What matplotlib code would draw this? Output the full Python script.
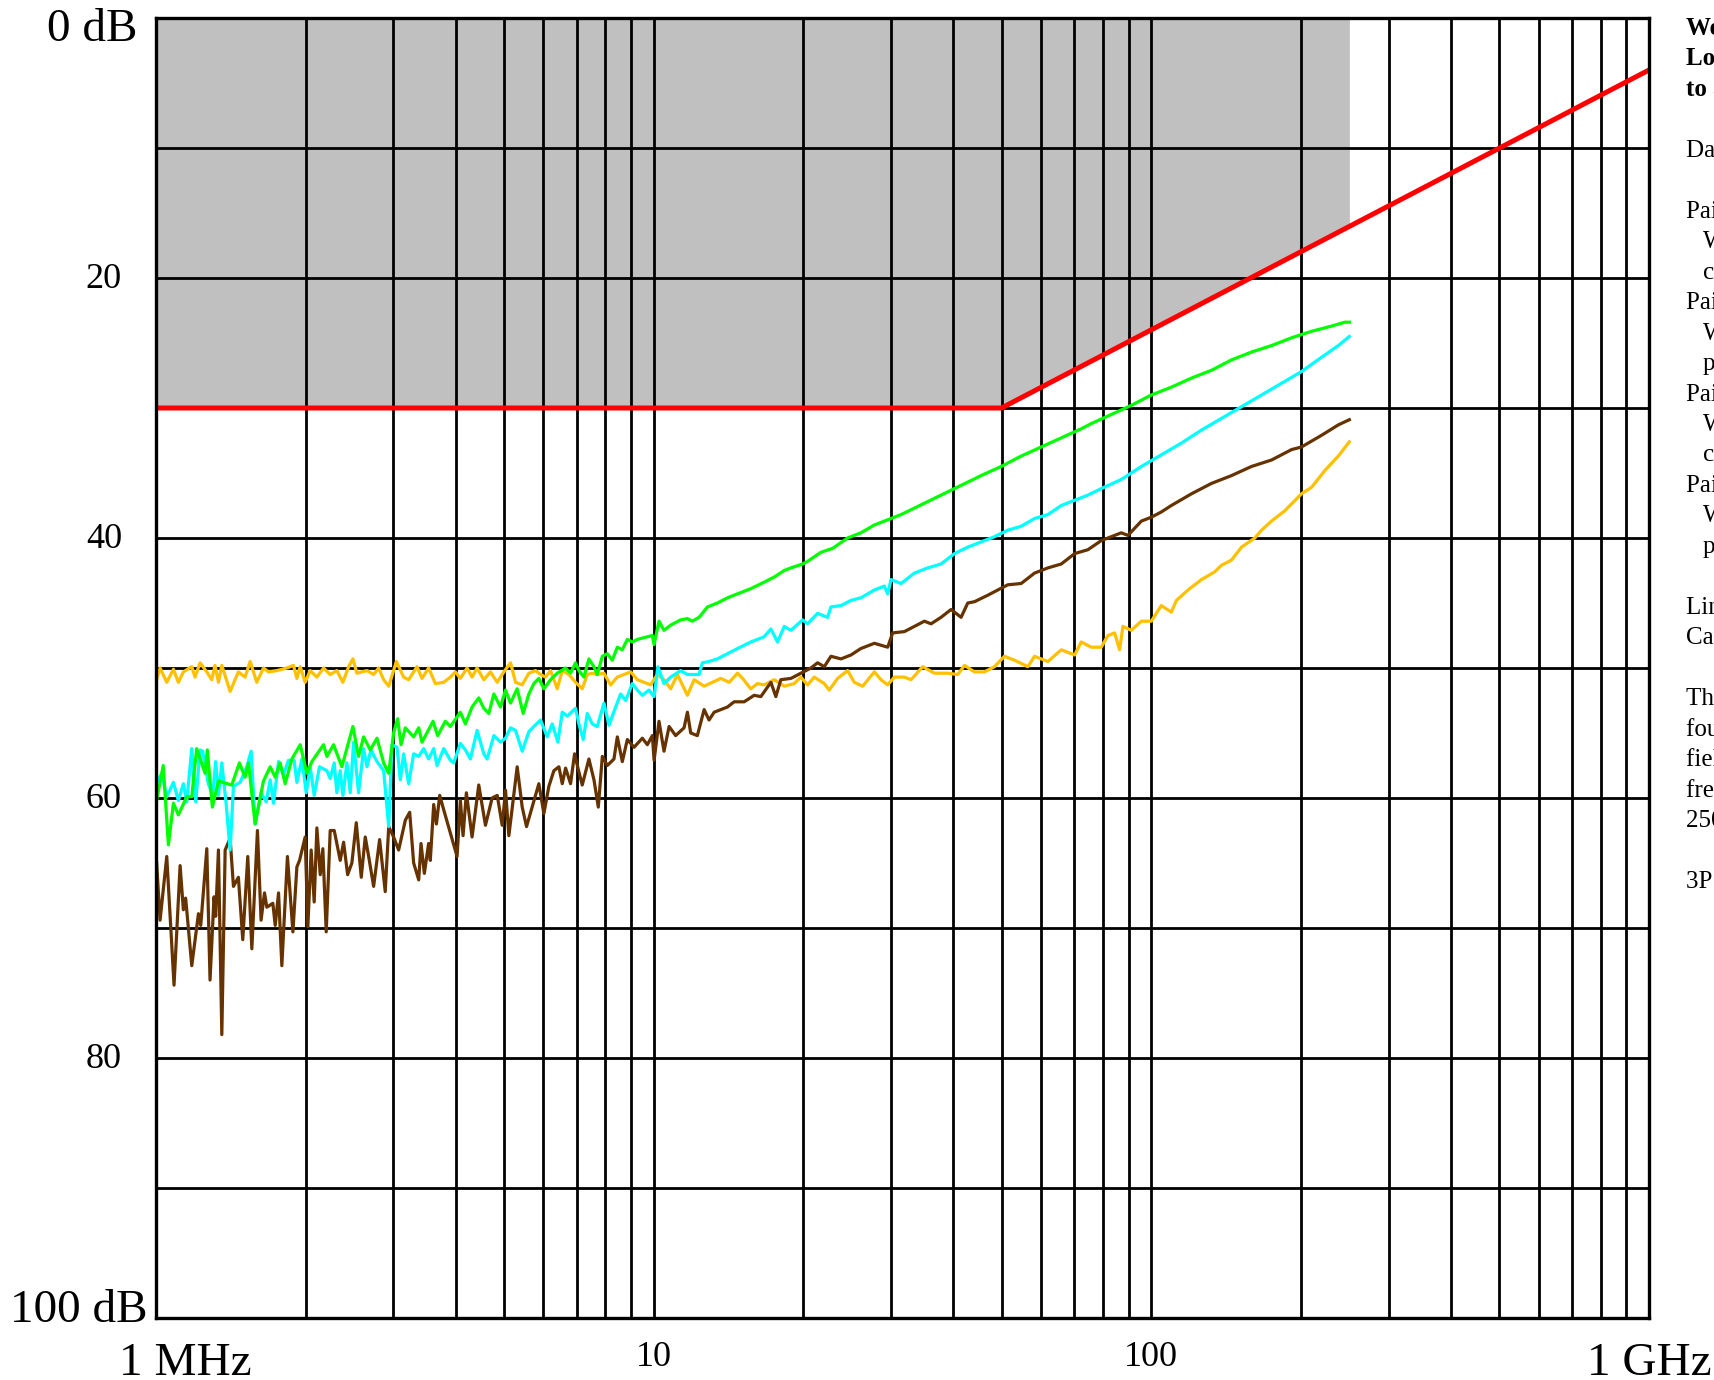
import matplotlib
matplotlib.use('Agg')
import matplotlib.pyplot as plt
from matplotlib.ticker import LogLocator, MultipleLocator, NullFormatter
from matplotlib.transforms import blended_transform_factory

SERIF = ['Liberation Serif', 'DejaVu Serif']

# ---------------- data (MHz, dB) ----------------
brown_f = [1.003, 1.019, 1.051, 1.087, 1.118, 1.135, 1.147, 1.180, 1.217, 1.230, 1.265, 1.284, 1.308, 1.318,
           1.335, 1.356, 1.377, 1.409, 1.431, 1.464, 1.494, 1.529, 1.558, 1.599, 1.626, 1.652, 1.670, 1.717,
           1.736, 1.763, 1.790, 1.837, 1.884, 1.919, 1.943, 1.994, 2.019, 2.050, 2.079, 2.105, 2.138, 2.164,
           2.198, 2.239, 2.281, 2.345, 2.382, 2.427, 2.475, 2.526, 2.585, 2.633, 2.675, 2.737, 2.814, 2.888,
           2.935, 3.002, 3.073, 3.170, 3.234, 3.294, 3.372, 3.408, 3.461, 3.530, 3.558, 3.614, 3.660, 3.716,
           3.785,
           3.905, 4.027, 4.089, 4.140, 4.204, 4.316, 4.452, 4.592, 4.736, 4.849, 4.962, 5.039, 5.117, 5.318,
           5.443, 5.553, 5.700, 5.879, 6.017, 6.158, 6.302, 6.450, 6.551, 6.653, 6.808, 6.935, 7.076, 7.186,
           7.411, 7.586, 7.740, 7.886, 8.069, 8.322, 8.452, 8.650, 8.853, 9.130, 9.490, 9.712, 9.940, 10.02,
           10.25, 10.49, 10.74, 11.07, 11.51, 11.69, 11.87, 12.24, 12.63, 12.92, 13.23, 14.07, 14.51, 15.20,
           15.92, 16.42, 17.20,
           17.60, 18.01, 18.87, 19.76, 20.70, 21.35, 22.02, 22.71, 23.79, 24.91, 26.09, 27.76, 29.53, 30.22,
           31.90, 33.41, 34.99, 36.09, 37.80, 39.59, 41.47, 42.77, 44.12, 46.93, 49.15, 51.47, 54.76, 58.25,
           61.96, 65.92, 70.13, 74.58,
           79.32, 83.09, 87.02, 89.75, 95.48, 100.0, 104.7, 109.7, 120.4, 132.1, 144.9, 158.9, 174.4, 191.3,
           200.3, 219.8, 237.5, 250.0]
brown_db = [65.0, 69.4, 64.5, 74.4, 65.2, 68.6, 67.7, 72.9, 68.9, 69.8, 63.9, 74.0, 67.6, 69.1,
            64.0, 78.2, 64.0, 63.1, 66.8, 66.1, 70.9, 64.5, 71.6, 62.5, 69.4, 67.3, 68.4, 68.1,
            69.8, 67.3, 72.9, 64.5, 70.3, 65.3, 64.8, 63.0, 69.9, 64.0, 68.0, 62.3, 65.9, 63.9,
            70.3, 62.5, 62.5, 64.8, 63.4, 65.9, 65.0, 61.9, 66.1, 63.0, 64.5, 66.8, 63.2, 67.2,
            62.2, 63.0, 64.0, 61.7, 61.1, 65.0, 66.3, 63.5, 65.8, 63.5, 64.8, 60.5, 62.0, 59.8,
            60.9,
            62.7, 64.5, 60.2, 62.9, 59.6, 63.0, 59.0, 62.1, 60.0, 59.8, 62.1, 59.4, 62.9, 57.6,
            60.7, 62.2, 60.7, 58.9, 61.2, 59.1, 57.9, 57.6, 58.9, 57.7, 58.9, 56.6, 58.0, 59.0,
            57.0, 58.6, 60.7, 56.8, 57.5, 57.0, 55.3, 57.2, 55.5, 56.1, 55.4, 55.9, 55.2, 57.1,
            54.1, 56.4, 54.5, 55.2, 54.6, 53.4, 55.0, 55.2, 53.2, 54.0, 53.4, 53.0, 52.6, 52.6,
            52.1, 52.2, 51.1,
            52.2, 50.9, 50.8, 50.4, 50.0, 49.6, 49.9, 49.1, 49.3, 49.0, 48.5, 48.1, 48.4, 47.3,
            47.2, 46.8, 46.4, 46.6, 46.1, 45.5, 46.1, 45.0, 44.9, 44.4, 44.0, 43.6, 43.5, 42.7,
            42.3, 42.0, 41.2, 40.9,
            40.2, 39.9, 39.6, 39.8, 38.7, 38.4, 38.0, 37.5, 36.6, 35.8, 35.2, 34.5, 34.0, 33.2,
            33.0, 32.1, 31.3, 30.9]

green_f = [1.003, 1.034, 1.059, 1.084, 1.109, 1.153, 1.180, 1.207, 1.255, 1.268, 1.298, 1.335, 1.420, 1.471,
           1.510, 1.534, 1.582, 1.644, 1.696, 1.736, 1.776, 1.818, 1.875, 1.949, 2.010, 2.057, 2.171, 2.205,
           2.274, 2.363, 2.487, 2.553, 2.613, 2.695, 2.780, 2.867, 2.935, 3.002, 3.059, 3.107, 3.170, 3.294,
           3.372, 3.424, 3.603, 3.681, 3.814,
           3.905, 4.089, 4.185, 4.316, 4.452, 4.557, 4.664, 4.774, 4.922, 5.039, 5.157, 5.318, 5.468, 5.613,
           5.745, 5.879, 6.017, 6.206, 6.401, 6.653, 6.808, 6.967, 7.076, 7.243, 7.411, 7.586, 7.704, 7.886,
           8.069, 8.258, 8.452, 8.650, 8.853, 9.060, 9.273, 9.712, 9.940, 10.02, 10.25, 10.49, 10.82, 11.33,
           11.69, 11.96, 12.34, 12.83, 13.43, 14.07, 14.74, 15.67, 16.67,
           17.47, 18.30, 18.87, 19.92, 20.38, 21.68, 22.88, 24.53, 26.09, 27.76, 29.53, 31.41, 33.41, 35.53,
           37.80, 40.21, 42.77, 45.50, 49.91, 54.76, 60.07, 65.92, 72.30,
           75.73, 83.09, 91.15, 100.0, 109.7, 120.4, 132.1, 144.9, 158.9, 174.4, 191.3, 209.9, 230.2, 244.9,
           250.0]
green_db = [60.2, 57.5, 63.6, 60.4, 61.3, 59.9, 59.9, 56.2, 58.1, 56.3, 60.7, 58.7, 59.0, 57.3,
            58.4, 57.3, 62.0, 58.7, 57.6, 58.4, 57.3, 58.9, 57.0, 55.9, 58.1, 57.2, 55.9, 56.8,
            55.9, 57.6, 54.5, 56.8, 55.3, 56.3, 55.4, 57.3, 58.1, 55.0, 53.9, 55.9, 54.6, 55.3,
            54.6, 55.7, 54.1, 55.2, 54.1,
            54.5, 53.4, 54.3, 53.0, 52.3, 53.1, 53.5, 52.0, 53.0, 51.7, 52.7, 51.6, 53.5, 52.0,
            51.2, 50.8, 51.6, 50.9, 50.4, 50.0, 50.4, 49.6, 50.2, 50.7, 49.3, 49.9, 50.5, 49.1,
            48.9, 49.4, 48.4, 48.6, 47.8, 48.0, 47.8, 47.6, 47.5, 48.2, 46.4, 47.1, 46.7, 46.3,
            46.2, 46.4, 46.1, 45.3, 45.0, 44.6, 44.3, 43.9, 43.4,
            43.0, 42.5, 42.3, 42.0, 41.8, 41.1, 40.8, 40.0, 39.6, 39.0, 38.6, 38.2, 37.7, 37.2,
            36.7, 36.2, 35.7, 35.2, 34.5, 33.7, 33.0, 32.3, 31.6,
            31.2, 30.5, 29.8, 29.0, 28.4, 27.7, 27.1, 26.3, 25.7, 25.2, 24.6, 24.1, 23.7, 23.4,
            23.4]

cyan_f = [1.003, 1.027, 1.051, 1.084, 1.109, 1.135, 1.153, 1.180, 1.202, 1.226, 1.241, 1.274, 1.300, 1.318,
          1.335, 1.356, 1.383, 1.409, 1.431, 1.476, 1.522, 1.553, 1.582, 1.626, 1.665, 1.696, 1.722, 1.763,
          1.804, 1.846, 1.895, 1.919, 1.964, 2.004, 2.041, 2.079, 2.131, 2.205, 2.239, 2.281, 2.309, 2.345,
          2.374, 2.419, 2.456, 2.495, 2.553, 2.613, 2.654, 2.703, 2.780, 2.867, 2.935, 2.980, 3.050, 3.097,
          3.145, 3.219, 3.294, 3.372, 3.451, 3.530, 3.614, 3.670, 3.785,
          3.905, 3.966, 4.089, 4.185, 4.283, 4.418, 4.557, 4.628, 4.774, 4.922, 5.039, 5.157, 5.278, 5.443,
          5.613, 5.745, 5.925, 6.111, 6.254, 6.420, 6.551, 6.704, 6.967, 7.076, 7.219, 7.355, 7.527, 7.704,
          7.945, 8.134, 8.387, 8.583, 8.785, 9.060, 9.273, 9.490, 9.788, 10.02, 10.20, 10.49, 10.82, 11.33,
          11.69, 12.06, 12.34, 12.53, 12.92, 13.43, 14.07, 14.74, 15.67, 16.67,
          17.20, 17.74, 18.30, 18.87, 19.92, 20.38, 21.35, 22.36, 22.71, 23.79, 24.91, 26.09, 27.76, 29.08,
          29.53, 29.99, 31.41, 33.41, 35.53, 37.80, 40.21, 42.77, 45.50, 48.40, 51.47, 54.76, 58.25, 61.96,
          65.92, 70.13, 74.58,
          79.32, 87.02, 95.48, 104.7, 114.9, 126.1, 138.3, 151.8, 166.5, 182.7, 200.3, 219.8, 237.5, 250.0]
cyan_db = [58.8, 58.1, 59.9, 58.8, 60.2, 58.9, 60.3, 56.2, 60.3, 56.3, 56.4, 58.9, 59.8, 57.2,
           59.8, 57.3, 60.4, 64.0, 59.1, 58.8, 57.6, 56.4, 62.0, 59.6, 60.3, 58.6, 60.4, 57.2,
           58.2, 57.1, 57.1, 58.8, 57.0, 59.6, 57.6, 59.8, 57.6, 57.9, 58.5, 57.3, 59.6, 57.9,
           59.8, 57.3, 59.6, 55.7, 59.6, 56.2, 57.6, 56.3, 57.2, 57.9, 62.2, 55.9, 56.1, 58.6,
           56.6, 58.9, 56.6, 56.8, 56.2, 57.0, 56.2, 57.5, 56.2,
           57.1, 57.3, 55.8, 56.3, 57.0, 54.8, 56.6, 57.0, 55.2, 55.7, 55.4, 54.6, 54.8, 56.4,
           54.9, 54.5, 54.0, 55.3, 54.3, 55.7, 53.4, 53.7, 53.1, 54.3, 55.5, 53.5, 54.3, 54.5,
           52.7, 54.4, 53.0, 52.0, 52.5, 51.2, 51.7, 52.1, 51.7, 52.2, 49.9, 51.2, 50.7, 50.2,
           50.5, 50.5, 50.5, 49.6, 49.5, 49.3, 48.9, 48.5, 48.0, 47.6,
           47.0, 48.0, 46.8, 47.1, 46.3, 46.6, 45.8, 46.1, 45.3, 45.2, 44.8, 44.6, 44.0, 43.7,
           44.3, 43.2, 43.5, 42.7, 42.3, 42.0, 41.2, 40.7, 40.3, 39.9, 39.4, 39.1, 38.5, 38.2,
           37.5, 37.1, 36.7,
           36.2, 35.5, 34.5, 33.6, 32.7, 31.7, 30.8, 29.9, 29.0, 28.1, 27.2, 26.1, 25.2, 24.5]

gold_f = [1.003, 1.019, 1.051, 1.084, 1.109, 1.135, 1.180, 1.198, 1.226, 1.265, 1.294, 1.314, 1.335, 1.356,
          1.409, 1.464, 1.510, 1.546, 1.594, 1.644, 1.683, 1.749, 1.832, 1.889, 1.919, 1.949, 1.994, 2.041,
          2.105, 2.171, 2.239, 2.309, 2.374, 2.438, 2.487, 2.533, 2.654, 2.737, 2.801, 2.867, 2.935, 3.041,
          3.145, 3.219, 3.346, 3.424, 3.530, 3.642, 3.785,
          3.905, 3.997, 4.089, 4.218, 4.316, 4.418, 4.557, 4.700, 4.849, 5.000, 5.157, 5.278, 5.443, 5.613,
          5.790, 5.925, 6.064, 6.206, 6.401, 6.551, 6.756, 6.967, 7.186, 7.355, 7.527, 7.704, 7.945, 8.194,
          8.452, 8.718, 8.992, 9.273, 9.563, 9.863, 10.17, 10.49, 10.82, 11.16, 11.69, 12.06, 12.63, 13.13,
          13.64, 14.18, 14.74, 15.09, 15.67, 16.17, 16.67,
          17.47, 18.30, 19.16, 19.76, 20.38, 21.02, 22.02, 22.53, 23.42, 24.53, 25.30, 26.30, 27.76, 28.63,
          29.53, 30.45, 31.90, 32.90, 34.72, 36.65, 38.98, 40.83, 42.13, 44.12, 46.20, 48.40, 50.68, 53.10,
          56.48, 58.25, 61.96, 65.92, 70.13, 72.30, 75.73,
          79.32, 81.82, 84.39, 86.35, 87.70, 91.15, 95.48, 100.0, 104.7, 109.7, 112.3, 118.5, 126.1, 134.1,
          138.3, 144.9, 151.8, 161.4, 166.5, 174.4, 185.5, 200.3, 209.9, 223.3, 237.5, 250.0]
gold_db = [50.9, 50.0, 51.1, 50.1, 51.1, 50.3, 49.9, 50.7, 49.6, 50.3, 50.9, 49.8, 51.1, 49.8,
           51.8, 50.3, 50.7, 49.5, 51.1, 50.0, 50.3, 50.2, 50.0, 49.8, 50.8, 49.9, 51.1, 50.2,
           50.7, 50.0, 50.5, 50.2, 51.1, 49.9, 49.3, 50.4, 50.2, 50.5, 50.0, 50.9, 51.4, 49.5,
           50.7, 50.9, 49.9, 50.8, 50.0, 51.2, 51.1,
           50.7, 50.3, 50.8, 50.0, 50.7, 50.0, 50.9, 50.3, 51.1, 50.3, 49.6, 51.1, 51.3, 50.4,
           50.2, 50.5, 50.7, 50.2, 51.6, 50.2, 50.5, 51.1, 51.6, 50.5, 50.4, 50.5, 50.4, 51.3,
           50.7, 50.5, 50.3, 50.9, 51.1, 51.3, 50.5, 50.9, 51.6, 50.5, 52.1, 50.9, 51.4, 51.1,
           50.8, 51.1, 50.4, 50.8, 51.6, 51.2, 51.3,
           50.9, 51.4, 51.2, 50.7, 51.3, 50.7, 51.2, 51.7, 50.8, 50.2, 51.1, 51.4, 50.3, 50.9,
           51.3, 50.7, 50.7, 50.9, 49.9, 50.4, 50.4, 50.5, 49.8, 50.3, 50.3, 49.9, 49.1, 49.4,
           49.9, 49.1, 49.5, 48.6, 49.0, 48.0, 48.4,
           48.4, 47.5, 47.3, 48.6, 46.8, 47.1, 46.4, 46.4, 45.2, 45.7, 44.8, 44.0, 43.2, 42.6,
           42.1, 41.7, 40.7, 40.0, 39.4, 38.7, 37.9, 36.6, 36.1, 34.8, 33.7, 32.6]

# limit line and the shaded "fail" region above it
limit_f = [1, 50, 1000]
limit_db = [30, 30, 4]
shade_f = [1, 50, 250]
shade_db = [30, 30, 16]

y_ticks = [0, 20, 40, 60, 80, 100]
y_labels = ['0 dB', '20', '40', '60', '80', '100 dB']
x_ticks = [1, 10, 100, 1000]
x_labels = ['1 MHz', '10', '100', '1 GHz']

side_text = [
    ('Weakest-pair NEXT', 'bold', 0), ('Loss of one pair', 'bold', 0), ('to another', 'bold', 0), ('', 'normal', 0),
    ('Data: network analyzer sweep', 'normal', 0), ('', 'normal', 0),
    ('Pair 1:', 'normal', 0), ('White/blue vs', 'normal', 1), ('crossed pair', 'normal', 1),
    ('Pair 2:', 'normal', 0), ('White/orange vs', 'normal', 1), ('parallel pair', 'normal', 1),
    ('Pair 3:', 'normal', 0), ('White/green vs', 'normal', 1), ('crossed pair', 'normal', 1),
    ('Pair 4:', 'normal', 0), ('White/brown vs', 'normal', 1), ('parallel pair', 'normal', 1),
    ('', 'normal', 0),
    ('Limit line:', 'normal', 0), ('Category 6', 'normal', 0), ('', 'normal', 0),
    ('The measured cable', 'normal', 0), ('found to pass in the', 'normal', 0),
    ('field test over the full', 'normal', 0), ('frequency range up to', 'normal', 0),
    ('250 MHz.', 'normal', 0), ('', 'normal', 0),
    ('3P field tester', 'normal', 0),
]

# ---------------- figure ----------------
W, H = 1714, 1380
fig = plt.figure(figsize=(W / 100, H / 100), dpi=100)
fig.patch.set_facecolor('white')
ax = fig.add_axes([156 / W, (H - 1318) / H, 1493 / W, 1300 / H])
ax.set_facecolor('white')
ax.set_xscale('log')
ax.set_xlim(1, 1000)
ax.set_ylim(100, 0)

ax.fill_between(shade_f, 0, shade_db, color='#c0c0c0', lw=0, zorder=0.2)

ax.xaxis.set_major_locator(LogLocator(base=10, subs=range(1, 10), numticks=40))
ax.xaxis.set_minor_locator(LogLocator(base=10, subs=[], numticks=40))
ax.xaxis.set_major_formatter(NullFormatter())
ax.xaxis.set_minor_formatter(NullFormatter())
ax.yaxis.set_major_locator(MultipleLocator(10))
ax.yaxis.set_major_formatter(NullFormatter())
ax.tick_params(which='both', length=0)
ax.set_axisbelow(True)
ax.grid(True, which='major', color='black', lw=2.0)
for s in ax.spines.values():
    s.set_linewidth(2.4)
    s.set_color('black')
    s.set_zorder(5)

ax.plot(gold_f, gold_db, color='#ffc000', lw=2.3, zorder=3)
ax.plot(brown_f, brown_db, color='#663300', lw=2.3, zorder=3)
ax.plot(cyan_f, cyan_db, color='#00ffff', lw=2.3, zorder=3)
ax.plot(green_f, green_db, color='#00ff00', lw=2.3, zorder=3)
ax.plot(limit_f, limit_db, color='#ff0000', lw=3.6, zorder=4, solid_capstyle='butt')

# y labels
ty = blended_transform_factory(ax.transAxes, ax.transData)
y_lab_x = [-0.0127, -0.0228, -0.0228, -0.0228, -0.0228, -0.0060]
y_lab_dy = [1.77, 0.77, 0.77, 0.77, 0.77, 0.3]
for v, lab, lx, dy in zip(y_ticks, y_labels, y_lab_x, y_lab_dy):
    big = 'dB' in lab
    ax.text(lx, v + dy, lab, transform=ty, ha='right', va='baseline',
            family=SERIF, fontsize=34 if big else 26, clip_on=False)

# x labels
tx = blended_transform_factory(ax.transData, ax.transAxes)
x_lab_x = [1.144, 10, 100, 1000]
for v, lab, lx in zip(x_ticks, x_labels, x_lab_x):
    big = 'Hz' in lab
    ax.text(lx, -(1375 - 1318) / 1300 if big else -(1366 - 1318) / 1300, lab, transform=tx,
            ha='center', va='baseline', family=SERIF, fontsize=34 if big else 26, clip_on=False)

# side notes (run off the right edge as in the original)
for i, (line, weight, indent) in enumerate(side_text):
    if not line:
        continue
    base = 35 + 30.46 * i
    fig.text((1686 + 17 * indent) / W, 1 - base / H, line, ha='left', va='baseline',
             family=SERIF, fontsize=18, fontweight=weight)

fig.savefig('out.png', dpi=100, facecolor='white')
